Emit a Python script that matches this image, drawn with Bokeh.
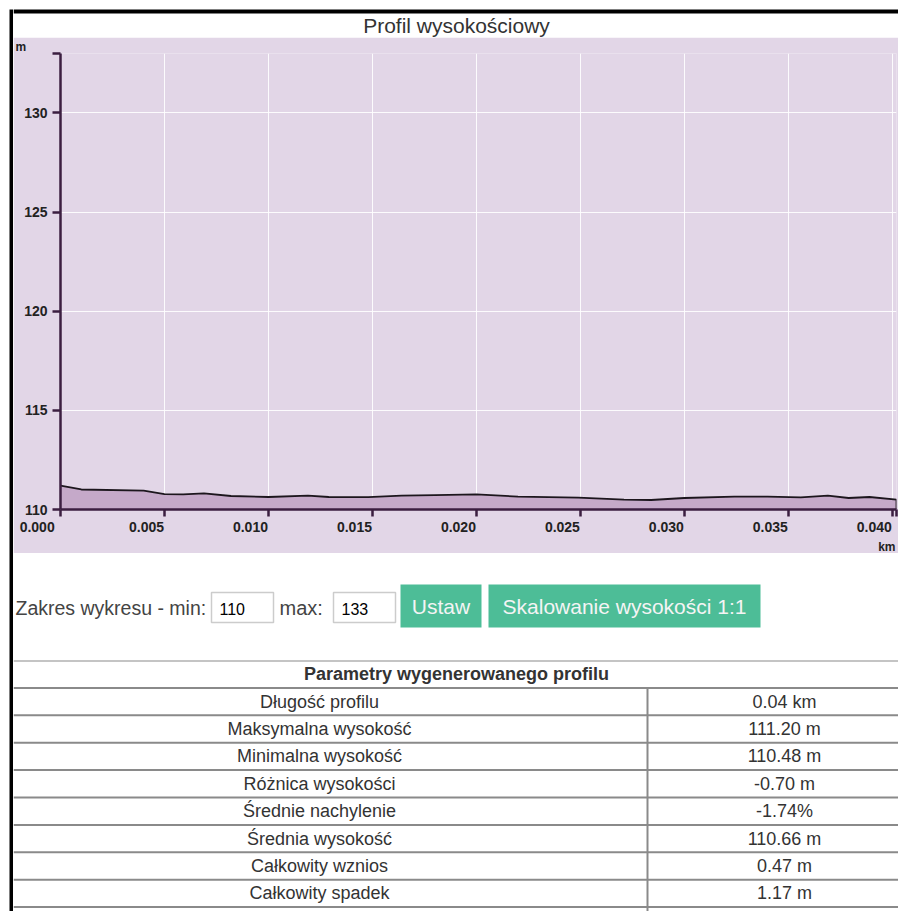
from bokeh.plotting import figure
from bokeh.models import Range1d, FixedTicker, Title, LinearAxis
from bokeh.layouts import column, row
from bokeh.embed import file_html
from bokeh.resources import INLINE
from bokeh.core.properties import value

# ---------------- data ----------------
TITLE = "Profil wysokościowy"
DIST_KM = [0.0000, 0.0010, 0.0040, 0.0050, 0.0059, 0.0069, 0.0082, 0.0100,
           0.0119, 0.0129, 0.0148, 0.0164, 0.0180, 0.0200, 0.0220, 0.0249,
           0.0271, 0.0284, 0.0300, 0.0324, 0.0340, 0.0356, 0.0369, 0.0379,
           0.0389, 0.0402]
ELEV_M = [111.20, 111.01, 110.95, 110.78, 110.76, 110.81, 110.68, 110.63,
          110.70, 110.63, 110.62, 110.70, 110.73, 110.76, 110.65, 110.60,
          110.50, 110.48, 110.58, 110.65, 110.65, 110.61, 110.70, 110.58,
          110.63, 110.50]
Y_MIN, Y_MAX = 110, 133
X_TICKS = [0.000, 0.005, 0.010, 0.015, 0.020, 0.025, 0.030, 0.035, 0.040]
X_TICK_LABELS = ["0.000", "0.005", "0.010", "0.015", "0.020", "0.025",
                 "0.030", "0.035", "0.040"]
Y_TICKS = [110, 115, 120, 125, 130]
X_UNIT, Y_UNIT = "km", "m"

FORM_LABEL_MIN = "Zakres wykresu - min:"
FORM_LABEL_MAX = "max:"
BUTTONS = ["Ustaw", "Skalowanie wysokości 1:1"]

TABLE_TITLE = "Parametry wygenerowanego profilu"
PARAM_NAMES = ["Długość profilu", "Maksymalna wysokość", "Minimalna wysokość",
               "Różnica wysokości", "Średnie nachylenie", "Średnia wysokość",
               "Całkowity wznios", "Całkowity spadek"]
PARAM_VALUES = ["0.04 km", "111.20 m", "110.48 m", "-0.70 m", "-1.74%",
                "110.66 m", "0.47 m", "1.17 m"]

# ---------------- style ----------------
FONT = "Liberation Sans"
LAVENDER = "#e2d6e7"
AREA = "#c5a9c9"
AXIS = "#3b1e40"
TXT = "#333333"
TICK_TXT = "#222222"
GREEN = "#4dbd97"
PAGE_W, PAGE_H = 898, 911
BORDER_IN, BORDER_OUT = 9, 13          # black page border (pixels)
COL_W = PAGE_W - BORDER_OUT
FRAME_L, FRAME_R = 47, 2               # chart borders inside its column
LABEL_SHIFT_PX = 18                    # x tick labels end at their tick
PAD0 = "\u00a0" * 12                   # same effect for the first label


def blank(w, h, xr, yr, bg="white"):
    f = figure(width=w, height=h, x_range=xr, y_range=yr, output_backend="svg",
               toolbar_location=None, tools="", x_axis_location=None,
               y_axis_location=None, min_border=0, outline_line_color=None,
               background_fill_color=bg, border_fill_color=bg,
               frame_align=False)
    f.grid.visible = False
    return f


# left black border
left_strip = blank(BORDER_OUT, PAGE_H, Range1d(0, BORDER_OUT), Range1d(PAGE_H, 0))
left_strip.quad(left=[BORDER_IN], right=[BORDER_OUT], top=[BORDER_IN],
                bottom=[PAGE_H], fill_color="black", line_color=None)

# header: top black border + title
HEAD_H = 37
header = blank(COL_W, HEAD_H, Range1d(BORDER_OUT, PAGE_W), Range1d(HEAD_H, 0))
header.quad(left=[BORDER_OUT], right=[PAGE_W], top=[BORDER_IN],
            bottom=[BORDER_OUT], fill_color="black", line_color=None)
header.text(x=[456], y=[25], text=[TITLE], text_font=value(FONT),
            text_font_size="21px", text_align="center",
            text_baseline="middle", text_color=TXT)

# ---------------- chart ----------------
X_END = DIST_KM[-1]
p = figure(width=COL_W, height=516, x_range=Range1d(0, X_END),
           y_range=Range1d(Y_MIN, Y_MAX), output_backend="svg",
           toolbar_location=None, tools="", min_border_left=FRAME_L,
           min_border_right=FRAME_R, min_border_top=12, min_border_bottom=40,
           background_fill_color=LAVENDER, border_fill_color=LAVENDER,
           outline_line_color=None, frame_align=False)

p.xgrid.ticker = FixedTicker(ticks=X_TICKS[1:])
p.ygrid.ticker = FixedTicker(ticks=Y_TICKS[1:])
p.grid.grid_line_color = "white"
p.grid.grid_line_width = 1
p.grid.grid_line_alpha = 0.9

p.varea(x=DIST_KM, y1=Y_MIN, y2=ELEV_M, fill_color=AREA)
p.line(x=DIST_KM + [DIST_KM[-1]], y=ELEV_M + [Y_MIN], line_color="#1c161d",
       line_width=1.8)

# x axis 1: axis line and tick marks only
xa = p.xaxis[0]
xa.ticker = FixedTicker(ticks=X_TICKS + [X_END])
xa.major_label_overrides = {t: "" for t in X_TICKS + [X_END]}
xa.major_label_text_font_size = "0px"
xa.major_label_standoff = 0
xa.major_tick_out = 7
xa.major_tick_in = 0
xa.major_tick_line_width = 2.5
xa.major_tick_line_color = AXIS
xa.minor_tick_line_color = None
xa.axis_line_color = AXIS
xa.axis_line_width = 2.5

# x axis 2: tick labels, right-aligned to the ticks
km_per_px = X_END / (COL_W - FRAME_L - FRAME_R)
shift = LABEL_SHIFT_PX * km_per_px
lab_ticks = [X_TICKS[0]] + [t - shift for t in X_TICKS[1:]]
lab_text = [X_TICK_LABELS[0] + PAD0] + X_TICK_LABELS[1:]
xl = LinearAxis(ticker=FixedTicker(ticks=lab_ticks),
                major_label_overrides=dict(zip(lab_ticks, lab_text)),
                axis_line_color=None, major_tick_line_color=None,
                minor_tick_line_color=None, major_tick_out=0, major_tick_in=0,
                major_label_standoff=2, major_label_text_font=FONT,
                major_label_text_font_size="14px",
                major_label_text_font_style="bold",
                major_label_text_color=TICK_TXT)
p.add_layout(xl, "below")

ya = p.yaxis[0]
ya.ticker = FixedTicker(ticks=Y_TICKS + [Y_MAX])
ya.major_label_overrides = {Y_MAX: ""}
ya.major_tick_out = 8
ya.major_tick_in = 0
ya.major_tick_line_width = 2.5
ya.major_tick_line_color = AXIS
ya.minor_tick_line_color = None
ya.axis_line_color = AXIS
ya.axis_line_width = 2.5
ya.major_label_standoff = 5
ya.major_label_text_font = FONT
ya.major_label_text_font_size = "14px"
ya.major_label_text_font_style = "bold"
ya.major_label_text_color = TICK_TXT

# unit labels
p.add_layout(Title(text=X_UNIT, align="right", offset=1, standoff=0,
                   text_font=FONT, text_font_size="12px",
                   text_font_style="bold", text_color=TICK_TXT), "below")
p.add_layout(Title(text=Y_UNIT, align="left", offset=-45, standoff=0,
                   text_font=FONT, text_font_size="12px",
                   text_font_style="bold", text_color=TICK_TXT), "above")

# ---------------- form ----------------
FORM_TOP, FORM_BOT = 553, 660
form = blank(COL_W, FORM_BOT - FORM_TOP, Range1d(BORDER_OUT, PAGE_W),
             Range1d(FORM_BOT, FORM_TOP))
form.text(x=[15], y=[607], text=[FORM_LABEL_MIN], text_font=value(FONT),
          text_font_size="19.5px", text_align="left",
          text_baseline="middle", text_color="#444444")
form.text(x=[279], y=[607], text=[FORM_LABEL_MAX], text_font=value(FONT),
          text_font_size="20px", text_align="left",
          text_baseline="middle", text_color="#444444")
form.quad(left=[211, 333], right=[273, 395], top=[592, 592], bottom=[622, 622],
          fill_color="white", line_color="#cccccc", line_width=1.5)
form.text(x=[219, 341], y=[608, 608], text=[str(Y_MIN), str(Y_MAX)],
          text_font=value(FONT), text_font_size="16px", text_align="left",
          text_baseline="middle", text_color="black")
form.quad(left=[400, 488], right=[481, 760], top=[584, 584], bottom=[627, 627],
          fill_color=GREEN, line_color=None)
form.text(x=[440.5, 624], y=[606, 606], text=BUTTONS, text_font=value(FONT),
          text_font_size="21px", text_align="center",
          text_baseline="middle", text_color="#f4f4f4")

# ---------------- table ----------------
TAB_TOP, ROW_H = FORM_BOT, 27.4
n = len(PARAM_NAMES)
table = blank(COL_W, PAGE_H - TAB_TOP, Range1d(BORDER_OUT, PAGE_W),
              Range1d(PAGE_H, TAB_TOP))
lines_y = [TAB_TOP + i * ROW_H for i in range(n + 2)]
table.segment(x0=[BORDER_OUT] * len(lines_y), x1=[PAGE_W] * len(lines_y),
              y0=lines_y, y1=lines_y, line_color="#8a8a8a", line_width=2)
table.segment(x0=[647], x1=[647], y0=[lines_y[1]], y1=[PAGE_H],
              line_color="#8a8a8a", line_width=2)
row_mid = [TAB_TOP + (i + 1.5) * ROW_H for i in range(n)]
table.text(x=[456], y=[TAB_TOP + 0.5 * ROW_H], text=[TABLE_TITLE],
           text_font=value(FONT), text_font_size="18px",
           text_font_style="bold", text_align="center",
           text_baseline="middle", text_color=TXT)
table.text(x=[319] * n, y=row_mid, text=PARAM_NAMES, text_font=value(FONT),
           text_font_size="18px", text_align="center", text_baseline="middle",
           text_color=TXT)
table.text(x=[784] * n, y=row_mid, text=PARAM_VALUES, text_font=value(FONT),
           text_font_size="18px", text_align="center", text_baseline="middle",
           text_color=TXT)

layout = row(left_strip, column(header, p, form, table))
open("out.html", "w").write(file_html(layout, INLINE))
